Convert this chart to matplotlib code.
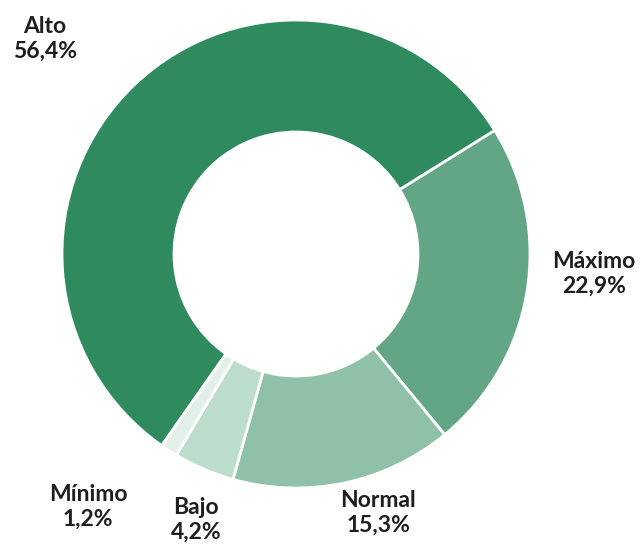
import matplotlib
matplotlib.use("Agg")
import matplotlib.pyplot as plt

categories = ["Máximo", "Normal", "Bajo", "Mínimo", "Alto"]
values = [22.9, 15.3, 4.2, 1.2, 56.4]
value_labels = ["22,9%", "15,3%", "4,2%", "1,2%", "56,4%"]
colors = ["#62a686", "#8fc0a8", "#bcdccc", "#e3f0e9", "#2f8a5e"]

W, H = 643, 547
fig = plt.figure(figsize=(W / 100, H / 100), dpi=100)
ax = fig.add_axes([0, 0, 1, 1])

cx, cy, R = 296, H - 254, 234
ax.pie(values, colors=colors, startangle=31.9, counterclock=False,
       center=(cx, cy), radius=R, frame=True,
       wedgeprops=dict(width=112, edgecolor="white", linewidth=2))
ax.set_xlim(0, W)
ax.set_ylim(0, H)
ax.set_aspect("equal")
ax.axis("off")

label_pos = {"Máximo": (594, 274), "Normal": (378, 513), "Bajo": (196, 520),
             "Mínimo": (88, 507), "Alto": (45, 39)}
for cat, lab in zip(categories, value_labels):
    x, y = label_pos[cat]
    ax.text(x, H - y, f"{cat}\n{lab}", ha="center", va="center",
            fontsize=16.5, fontweight="bold", family="Lato", color="#1e1e1e",
            linespacing=1.25)

fig.savefig("out.png", dpi=100)
